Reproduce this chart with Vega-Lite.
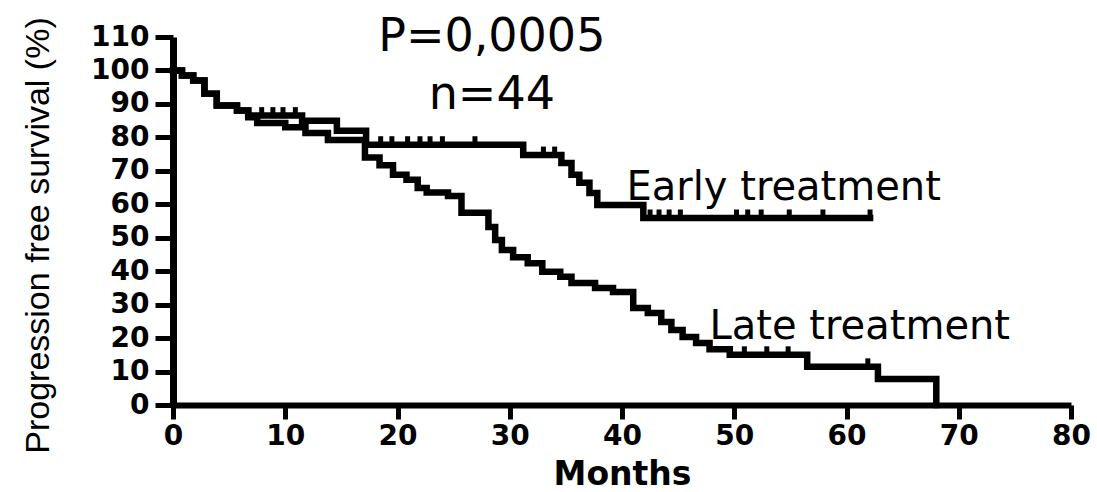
{
  "$schema": "https://vega.github.io/schema/vega-lite/v6.json",
  "autosize": "none",
  "width": 898,
  "height": 368,
  "padding": {"left": 173, "top": 37, "right": 26, "bottom": 87},
  "background": "white",
  "config": {"view": {"stroke": null}},
  "datasets": {
    "curves": [
      {"group": "Early", "month": 0, "pct": 100},
      {"group": "Early", "month": 0.8, "pct": 98.5},
      {"group": "Early", "month": 1.8, "pct": 97},
      {"group": "Early", "month": 2.8, "pct": 93},
      {"group": "Early", "month": 3.9, "pct": 89.5},
      {"group": "Early", "month": 5.7, "pct": 88},
      {"group": "Early", "month": 6.7, "pct": 86.5},
      {"group": "Early", "month": 11.5, "pct": 85},
      {"group": "Early", "month": 14.6, "pct": 82},
      {"group": "Early", "month": 17.2, "pct": 77.8},
      {"group": "Early", "month": 31.2, "pct": 74.7},
      {"group": "Early", "month": 34.6, "pct": 72.3},
      {"group": "Early", "month": 35.5, "pct": 68.8},
      {"group": "Early", "month": 36.2, "pct": 66.4},
      {"group": "Early", "month": 37.1, "pct": 63.4},
      {"group": "Early", "month": 37.8, "pct": 59.8},
      {"group": "Early", "month": 41.9, "pct": 55.9},
      {"group": "Early", "month": 62.1, "pct": 55.9},
      {"group": "Late", "month": 0, "pct": 100},
      {"group": "Late", "month": 0.8, "pct": 98.5},
      {"group": "Late", "month": 1.8, "pct": 97},
      {"group": "Late", "month": 2.8, "pct": 93},
      {"group": "Late", "month": 3.9, "pct": 89.5},
      {"group": "Late", "month": 5.7, "pct": 88},
      {"group": "Late", "month": 6.7, "pct": 86},
      {"group": "Late", "month": 7.5, "pct": 84.3},
      {"group": "Late", "month": 10, "pct": 83},
      {"group": "Late", "month": 11.8, "pct": 81.3},
      {"group": "Late", "month": 13.8, "pct": 79.2},
      {"group": "Late", "month": 17.1, "pct": 74},
      {"group": "Late", "month": 18.4, "pct": 71.7},
      {"group": "Late", "month": 19.6, "pct": 68.8},
      {"group": "Late", "month": 20.8, "pct": 67.3},
      {"group": "Late", "month": 21.8, "pct": 64.9},
      {"group": "Late", "month": 22.6, "pct": 63.5},
      {"group": "Late", "month": 24.5, "pct": 62.5},
      {"group": "Late", "month": 25.7, "pct": 57.5},
      {"group": "Late", "month": 28.1, "pct": 53.2},
      {"group": "Late", "month": 28.7, "pct": 49.3},
      {"group": "Late", "month": 29.3, "pct": 46.3},
      {"group": "Late", "month": 30.3, "pct": 44.2},
      {"group": "Late", "month": 31.6, "pct": 42.4},
      {"group": "Late", "month": 32.9, "pct": 39.8},
      {"group": "Late", "month": 34.5, "pct": 38.3},
      {"group": "Late", "month": 35.5, "pct": 36.5},
      {"group": "Late", "month": 37.6, "pct": 35},
      {"group": "Late", "month": 39.2, "pct": 33.8},
      {"group": "Late", "month": 41, "pct": 29},
      {"group": "Late", "month": 42.3, "pct": 27.5},
      {"group": "Late", "month": 43.5, "pct": 24.8},
      {"group": "Late", "month": 44.4, "pct": 22.4},
      {"group": "Late", "month": 45.4, "pct": 20.3},
      {"group": "Late", "month": 46.6, "pct": 18.5},
      {"group": "Late", "month": 47.8, "pct": 16.7},
      {"group": "Late", "month": 49.6, "pct": 15},
      {"group": "Late", "month": 56.5, "pct": 11.4},
      {"group": "Late", "month": 62.8, "pct": 7.8},
      {"group": "Late", "month": 68, "pct": 0}
    ],
    "censors": [
      {"group": "Early", "month": 7.9, "pct": 86.5},
      {"group": "Early", "month": 8.9, "pct": 86.5},
      {"group": "Early", "month": 9.8, "pct": 86.5},
      {"group": "Early", "month": 10.9, "pct": 86.5},
      {"group": "Early", "month": 18.5, "pct": 77.8},
      {"group": "Early", "month": 19.5, "pct": 77.8},
      {"group": "Early", "month": 20.9, "pct": 77.8},
      {"group": "Early", "month": 22.0, "pct": 77.8},
      {"group": "Early", "month": 22.9, "pct": 77.8},
      {"group": "Early", "month": 24.0, "pct": 77.8},
      {"group": "Early", "month": 26.9, "pct": 77.8},
      {"group": "Early", "month": 33.0, "pct": 74.7},
      {"group": "Early", "month": 34.0, "pct": 74.7},
      {"group": "Early", "month": 42.5, "pct": 55.9},
      {"group": "Early", "month": 43.3, "pct": 55.9},
      {"group": "Early", "month": 44.2, "pct": 55.9},
      {"group": "Early", "month": 45.2, "pct": 55.9},
      {"group": "Early", "month": 50.2, "pct": 55.9},
      {"group": "Early", "month": 51.2, "pct": 55.9},
      {"group": "Early", "month": 52.4, "pct": 55.9},
      {"group": "Early", "month": 54.9, "pct": 55.9},
      {"group": "Early", "month": 57.9, "pct": 55.9},
      {"group": "Early", "month": 62.1, "pct": 55.9},
      {"group": "Late", "month": 50.9, "pct": 15},
      {"group": "Late", "month": 52.9, "pct": 15},
      {"group": "Late", "month": 54.8, "pct": 15},
      {"group": "Late", "month": 61.9, "pct": 11.4}
    ],
    "notes": [
      {"label": "P=0,0005", "month": 28.4, "pct": 110},
      {"label": "n=44", "month": 28.4, "pct": 92.7}
    ],
    "groupLabels": [
      {"label": "Early treatment", "month": 40.4, "pct": 64.9},
      {"label": "Late treatment", "month": 47.8, "pct": 23.3}
    ]
  },
  "encoding": {
    "x": {
      "field": "month",
      "type": "quantitative",
      "scale": {"domain": [0, 80], "nice": false},
      "axis": {
        "title": "Months",
        "values": [0, 10, 20, 30, 40, 50, 60, 70, 80],
        "grid": false,
        "domainColor": "black",
        "domainWidth": 6,
        "tickColor": "black",
        "tickWidth": 5,
        "tickSize": 14,
        "labelFont": "DejaVu Sans",
        "labelFontWeight": "bold",
        "labelFontSize": 28,
        "labelColor": "black",
        "labelPadding": 3,
        "labelFlush": false,
        "titleFont": "DejaVu Sans",
        "titleFontWeight": "bold",
        "titleFontSize": 33,
        "titleColor": "black",
        "titleY": 79,
        "titleBaseline": "alphabetic"
      }
    },
    "y": {
      "field": "pct",
      "type": "quantitative",
      "scale": {"domain": [0, 110], "nice": false},
      "axis": {
        "title": "Progression free survival (%)",
        "values": [0, 10, 20, 30, 40, 50, 60, 70, 80, 90, 100, 110],
        "grid": false,
        "domainColor": "black",
        "domainWidth": 7,
        "tickColor": "black",
        "tickWidth": 5,
        "tickSize": 18,
        "labelFont": "DejaVu Sans",
        "labelFontWeight": "bold",
        "labelFontSize": 28,
        "labelColor": "black",
        "labelPadding": 6,
        "labelFlush": false,
        "titleFont": "Liberation Sans",
        "titleFontWeight": "normal",
        "titleFontSize": 34,
        "titleColor": "black",
        "titleX": -135,
        "titleY": 198,
        "titleAngle": -90,
        "titleAlign": "center",
        "titleBaseline": "middle"
      }
    }
  },
  "layer": [
    {
      "data": {"name": "curves"},
      "mark": {"type": "line", "interpolate": "step-after", "color": "black", "strokeWidth": 6.5, "strokeCap": "square", "clip": false},
      "encoding": {"detail": {"field": "group"}}
    },
    {
      "data": {"name": "censors"},
      "mark": {"type": "tick", "orient": "vertical", "color": "black", "size": 11, "thickness": 5, "yOffset": -3, "opacity": 1},
      "encoding": {}
    },
    {
      "data": {"name": "notes"},
      "mark": {"type": "text", "font": "DejaVu Sans", "fontSize": 46, "align": "center", "baseline": "middle", "color": "black"},
      "encoding": {"text": {"field": "label"}}
    },
    {
      "data": {"name": "groupLabels"},
      "mark": {"type": "text", "font": "DejaVu Sans", "fontSize": 40, "align": "left", "baseline": "middle", "color": "black"},
      "encoding": {"text": {"field": "label"}}
    }
  ]
}
